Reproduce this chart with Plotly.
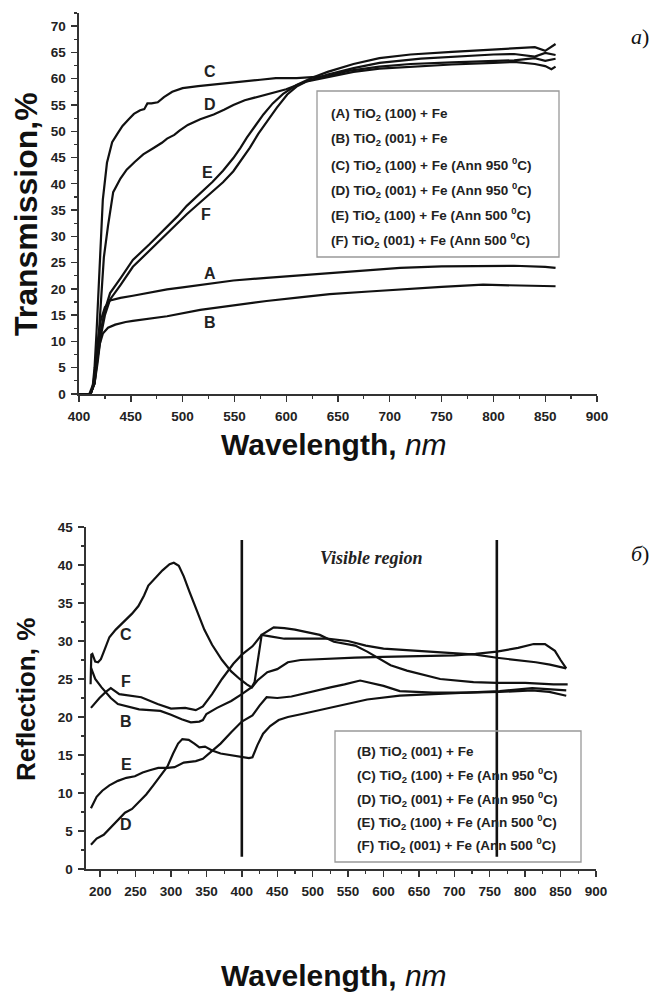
import plotly.graph_objects as go

W, H = 657, 996

# ---------------- Transmission (top) data ----------------
tA_x = [400, 410, 412, 414, 416, 418, 421, 425, 430, 440, 452, 470, 485, 500, 517, 549, 581, 613, 642, 680, 710, 750, 780, 820, 850, 860]
tA_y = [0, 0, 0.3, 2, 6, 10, 14, 16.5, 17.8, 18.3, 18.7, 19.4, 19.9, 20.3, 20.8, 21.6, 22.1, 22.6, 23.0, 23.6, 24.0, 24.3, 24.4, 24.4, 24.2, 24.0]
tB_x = [400, 410, 414, 417, 420, 423, 428, 435, 445, 452, 470, 485, 517, 549, 581, 613, 642, 680, 710, 750, 790, 820, 860]
tB_y = [0, 0, 2, 6, 9.5, 11.5, 12.6, 13.2, 13.7, 13.9, 14.4, 14.8, 16.0, 16.9, 17.7, 18.4, 19.0, 19.5, 19.9, 20.4, 20.8, 20.7, 20.5]
tC_x = [400, 411, 413, 415, 417, 420, 423, 427, 432, 437, 442, 448, 453, 459, 463, 466, 470, 476, 482, 490, 500, 515, 532, 550, 575, 590, 610, 640, 660, 690, 720, 760, 800, 820, 840, 850, 860]
tC_y = [0, 0, 1, 5, 12, 24, 37, 44, 47.9, 49.5, 51, 52.3, 53.3, 54.0, 54.2, 55.3, 55.3, 55.5, 56.5, 57.5, 58.2, 58.6, 58.9, 59.3, 59.8, 60.1, 60.1, 60.5, 61.5, 62.3, 62.8, 63.1, 63.4, 63.5, 63.9, 63.4, 63.8]
tD_x = [400, 411, 415, 418, 421, 424, 428, 433, 440, 446, 454, 462, 472, 480, 485, 492, 497, 505, 517, 530, 540, 549, 560, 575, 585, 600, 620, 640, 665, 690, 730, 770, 800, 820, 840, 850, 860]
tD_y = [0, 0, 2, 8, 17, 26, 32, 38.4, 41, 42.7, 44.2, 45.6, 46.8, 47.8, 48.6, 49.3, 50.1, 51.2, 52.3, 53.2, 54.1, 55.0, 55.9, 56.7, 57.3, 58.0, 59.5, 60.8, 62.0, 63.0, 63.8, 64.3, 64.6, 64.7, 64.2, 64.9, 64.5]
tE_x = [400, 411, 415, 418, 421, 425, 430, 440, 452, 468, 485, 495, 504, 516, 529, 539, 549, 556, 562, 570, 578, 587, 597, 610, 625, 640, 665, 690, 720, 760, 800, 820, 840, 850, 860]
tE_y = [0, 0, 2, 7, 12, 16, 19.2, 22, 25.5, 28.5, 31.8, 33.8, 35.8, 38, 40.4, 42.5, 44.9, 46.9, 48.8, 51, 53.2, 55.3, 57.1, 58.8, 60.2, 61.3, 62.8, 63.9, 64.6, 65.1, 65.5, 65.7, 66.0, 65.3, 66.6]
tF_x = [400, 411, 415, 418, 421, 425, 430, 440, 452, 468, 485, 495, 504, 516, 529, 539, 549, 557, 565, 573, 581, 591, 601, 610, 620, 640, 665, 690, 720, 760, 800, 820, 840, 850, 856, 860]
tF_y = [0, 0, 2, 6, 11, 15, 18, 20.7, 24.2, 27.3, 30.5, 32.4, 34.2, 36.3, 38.5, 40.3, 42.4, 44.6, 46.9, 49.5, 51.7, 54.5, 57, 58.5, 59.5, 60.3, 61.3, 61.9, 62.3, 62.7, 63.0, 63.2, 62.8, 62.4, 61.8, 62.3]

top_labels = ["A", "B", "C", "D", "E", "F"]
top_label_x = [526, 526, 526, 526, 524, 523]
top_label_y = [22.9, 13.7, 61.4, 55.1, 42.2, 34.1]
top_legend = [
    "(A) TiO<sub>2</sub> (100) + Fe",
    "(B) TiO<sub>2</sub> (001) + Fe",
    "(C) TiO<sub>2</sub> (100) + Fe (Ann 950 <sup>0</sup>C)",
    "(D) TiO<sub>2</sub> (001) + Fe (Ann 950 <sup>0</sup>C)",
    "(E) TiO<sub>2</sub> (100) + Fe (Ann 500 <sup>0</sup>C)",
    "(F) TiO<sub>2</sub> (001) + Fe (Ann 500 <sup>0</sup>C)",
]

# ---------------- Reflection (bottom) data ----------------
rB_x = [187, 193, 202, 215, 225, 240, 255, 270, 285, 300, 315, 328, 340, 345, 350, 365, 385, 400, 415, 422, 436, 450, 465, 483, 525, 560, 600, 650, 700, 730, 760, 790, 812, 828, 842, 850, 858]
rB_y = [26.5, 25.0, 23.9, 22.5, 21.7, 21.3, 21.0, 20.9, 20.8, 20.3, 19.7, 19.3, 19.4, 19.6, 20.4, 21.2, 22.1, 23.0, 24.0, 24.8, 25.9, 26.3, 27.2, 27.5, 27.7, 27.8, 27.9, 28.0, 28.1, 28.3, 28.6, 29.1, 29.6, 29.6, 28.7, 27.5, 26.4]
rC_x = [186.5, 187.5, 189, 193, 197, 201, 206, 213, 222, 235, 245, 254, 262, 268, 278, 288, 298, 304, 311, 318, 326, 336, 347, 358, 372, 385, 397, 407, 414, 418, 423, 428, 440, 460, 483, 520, 550, 575, 600, 650, 700, 730, 760, 790, 815, 835, 850, 858]
rC_y = [24.3, 28.2, 28.3, 27.3, 27.2, 27.6, 28.8, 30.5, 31.5, 32.7, 33.6, 34.6, 36.0, 37.3, 38.3, 39.3, 40.1, 40.3, 39.9, 38.5, 36.5, 34.0, 31.5, 29.5, 27.5, 26.0, 25.0, 24.3, 23.9, 24.6, 27.5, 30.8, 30.6, 30.3, 30.3, 30.3, 30.0, 29.4, 29.0, 28.7, 28.4, 28.2, 27.8, 27.5, 27.2, 26.9, 26.6, 26.4]
rD_x = [187, 195, 205, 215, 225, 235, 245, 255, 265, 275, 285, 295, 303, 310, 316, 325, 333, 340, 348, 358, 370, 385, 400, 410, 415, 422, 430, 440, 452, 465, 485, 505, 525, 550, 577, 623, 670, 717, 764, 810, 840, 858]
rD_y = [3.2, 4.0, 4.5, 5.5, 6.5, 7.4, 7.9, 8.8, 9.8, 11.0, 12.2, 13.5, 15.2, 16.5, 17.1, 17.0, 16.5, 16.0, 16.1, 15.6, 15.2, 15.0, 14.8, 14.6, 14.7, 16.3, 17.8, 18.8, 19.6, 20.0, 20.4, 20.8, 21.2, 21.7, 22.3, 22.8, 23.0, 23.2, 23.4, 23.8, 23.6, 23.5]
rE_x = [187, 195, 203, 213, 225, 237, 249, 260, 270, 282, 295, 305, 318, 335, 345, 358, 370, 385, 400, 415, 425, 435, 450, 470, 500, 525, 545, 567, 600, 623, 670, 717, 764, 810, 834, 858]
rE_y = [8.0, 9.5, 10.3, 11.0, 11.6, 12.0, 12.2, 12.7, 13.0, 13.3, 13.3, 13.4, 14.0, 14.2, 14.5, 15.5, 16.5, 18.0, 19.4, 20.2, 21.5, 22.6, 22.5, 22.7, 23.4, 23.9, 24.3, 24.8, 24.1, 23.4, 23.2, 23.2, 23.3, 23.5, 23.3, 22.8]
rF_x = [187, 199, 208, 215, 227, 240, 258, 281, 300, 320, 335, 345, 358, 372, 388, 400, 415, 428, 445, 460, 475, 490, 510, 530, 560, 577, 610, 633, 657, 680, 727, 760, 800, 840, 860]
rF_y = [21.2, 22.5, 23.3, 23.8, 23.0, 22.8, 22.6, 21.7, 21.1, 21.2, 20.9, 21.4, 23.0, 25.0, 27.0, 28.2, 29.3, 30.8, 31.8, 31.7, 31.5, 31.2, 30.8, 29.9, 29.4, 28.6, 26.8, 26.1, 25.5, 25.0, 24.6, 24.5, 24.5, 24.3, 24.3]

bot_labels = ["C", "F", "B", "E", "D"]
bot_label_x = [237, 237, 237, 237, 237]
bot_label_y = [30.9, 24.7, 19.4, 13.7, 5.9]
bot_legend = [
    "(B) TiO<sub>2</sub> (001) + Fe",
    "(C) TiO<sub>2</sub> (100) + Fe (Ann 950 <sup>0</sup>C)",
    "(D) TiO<sub>2</sub> (001) + Fe (Ann 950 <sup>0</sup>C)",
    "(E) TiO<sub>2</sub> (100) + Fe (Ann 500 <sup>0</sup>C)",
    "(F) TiO<sub>2</sub> (001) + Fe (Ann 500 <sup>0</sup>C)",
]
visible_bounds = [400, 760]
visible_line_y = [1.6, 43.3]

top_x_ticks = list(range(400, 901, 50))
top_y_ticks = list(range(0, 71, 5))
bot_x_ticks = list(range(200, 901, 50))
bot_y_ticks = list(range(0, 46, 5))

# ---------------- layout helpers ----------------
def fx(px):
    return px / W

def fy(py):
    return 1 - py / H

LINE = "#111111"
FONT = "Liberation Sans, Arial, sans-serif"
SERIF = "Liberation Serif, Times New Roman, serif"

fig = go.Figure()

for xs, ys in [(tA_x, tA_y), (tB_x, tB_y), (tC_x, tC_y), (tD_x, tD_y), (tE_x, tE_y), (tF_x, tF_y)]:
    fig.add_trace(go.Scatter(x=xs, y=ys, mode="lines", line=dict(color=LINE, width=2.2),
                             xaxis="x", yaxis="y", showlegend=False, hoverinfo="skip"))

for xs, ys in [(rB_x, rB_y), (rC_x, rC_y), (rD_x, rD_y), (rE_x, rE_y), (rF_x, rF_y)]:
    fig.add_trace(go.Scatter(x=xs, y=ys, mode="lines", line=dict(color=LINE, width=2.2),
                             xaxis="x2", yaxis="y2", showlegend=False, hoverinfo="skip"))

for vx in visible_bounds:
    fig.add_trace(go.Scatter(x=[vx, vx], y=visible_line_y, mode="lines",
                             line=dict(color=LINE, width=2.6), xaxis="x2", yaxis="y2",
                             showlegend=False, hoverinfo="skip"))

tickfont = dict(family=FONT, size=13.5, color="#222222")
MINOR = dict(ticks="outside", ticklen=3, tickwidth=1.2, tickcolor="#333333")
axis_common = dict(showline=True, linecolor="#333333", linewidth=1.6, ticks="outside",
                   ticklen=6, tickwidth=1.4, tickcolor="#333333", showgrid=False,
                   zeroline=False, tickfont=tickfont, mirror=False, fixedrange=True,
                   automargin=False, ticklabelstandoff=3)

def bold(vals):
    return [f"<b>{v}</b>" for v in vals]

TOP_L, TOP_R, TOP_T, TOP_B = 79, 597, 13, 394
BOT_L, BOT_R, BOT_T, BOT_B = 86, 596, 527, 869

fig.update_layout(
    template="none",
    width=W, height=H, margin=dict(l=0, r=0, t=0, b=0, autoexpand=False),
    paper_bgcolor="white", plot_bgcolor="white",
    xaxis=dict(domain=[fx(TOP_L), fx(TOP_R)], range=[400, 900], tickvals=top_x_ticks,
               ticktext=bold(top_x_ticks), minor=dict(dtick=25, **MINOR),
               anchor="y", **axis_common),
    yaxis=dict(domain=[fy(TOP_B), fy(TOP_T)], range=[0, 72.5], tickvals=top_y_ticks,
               ticktext=bold(top_y_ticks), minor=dict(dtick=2.5, **MINOR),
               anchor="x", **axis_common),
    xaxis2=dict(domain=[fx(BOT_L), fx(BOT_R)], range=[180, 900], tickvals=bot_x_ticks,
                ticktext=bold(bot_x_ticks), minor=dict(tickvals=list(range(175, 901, 25)), **MINOR),
                anchor="y2", **axis_common),
    yaxis2=dict(domain=[fy(BOT_B), fy(BOT_T)], range=[0, 45], tickvals=bot_y_ticks,
                ticktext=bold(bot_y_ticks), minor=dict(dtick=2.5, **MINOR),
                anchor="x2", **axis_common),
)

ann = []
LBL_FONT = dict(family=FONT, size=16, color="#222222")
for t, x, y in zip(top_labels, top_label_x, top_label_y):
    ann.append(dict(x=x, y=y, xref="x", yref="y", text=f"<b>{t}</b>", showarrow=False, font=LBL_FONT))
for t, x, y in zip(bot_labels, bot_label_x, bot_label_y):
    ann.append(dict(x=x, y=y, xref="x2", yref="y2", text=f"<b>{t}</b>", showarrow=False, font=LBL_FONT))

# axis titles
ann.append(dict(x=fx(26), y=fy(214), xref="paper", yref="paper", text="<b>Transmission,%</b>",
                textangle=-90, xanchor="center", yanchor="middle", showarrow=False,
                font=dict(family=FONT, size=32, color="#111111")))
ann.append(dict(x=fx(334), y=fy(444), xref="paper", yref="paper",
                text="<b>Wavelength,</b> <i>nm</i>", xanchor="center", yanchor="middle", showarrow=False,
                font=dict(family=FONT, size=30, color="#111111")))
ann.append(dict(x=fx(26), y=fy(700), xref="paper", yref="paper", text="<b>Reflection, %</b>",
                textangle=-90, xanchor="center", yanchor="middle", showarrow=False,
                font=dict(family=FONT, size=26, color="#111111")))
ann.append(dict(x=fx(334), y=fy(975), xref="paper", yref="paper",
                text="<b>Wavelength,</b> <i>nm</i>", xanchor="center", yanchor="middle", showarrow=False,
                font=dict(family=FONT, size=30, color="#111111")))

# panel labels
ann.append(dict(x=fx(651), y=fy(36), xref="paper", yref="paper", text="<i>a</i>)", xanchor="right",
                yanchor="middle", showarrow=False, font=dict(family=SERIF, size=22, color="#111111")))
ann.append(dict(x=fx(651), y=fy(553), xref="paper", yref="paper", text="<i>б</i>)", xanchor="right",
                yanchor="middle", showarrow=False, font=dict(family=SERIF, size=22, color="#111111")))
ann.append(dict(x=fx(371), y=fy(558), xref="paper", yref="paper", text="<b><i>Visible region</i></b>",
                xanchor="center", yanchor="middle", showarrow=False,
                font=dict(family=SERIF, size=18, color="#222222")))

# legends
LEG_FONT = dict(family=FONT, size=13.5, color="#222222")
for i, t in enumerate(top_legend):
    ann.append(dict(x=fx(329), y=fy(115 + i * 25), xref="paper", yref="paper", text=f"<b>{t}</b>",
                    xanchor="left", yanchor="middle", showarrow=False, font=LEG_FONT))
for i, t in enumerate(bot_legend):
    ann.append(dict(x=fx(355), y=fy(752 + i * 23.3), xref="paper", yref="paper", text=f"<b>{t}</b>",
                    xanchor="left", yanchor="middle", showarrow=False, font=LEG_FONT))

fig.update_layout(annotations=ann, shapes=[
    dict(type="rect", xref="paper", yref="paper", x0=fx(317), x1=fx(559), y0=fy(91), y1=fy(257),
         line=dict(color="#999999", width=1.3), fillcolor="rgba(0,0,0,0)"),
    dict(type="rect", xref="paper", yref="paper", x0=fx(335), x1=fx(581), y0=fy(731), y1=fy(862),
         line=dict(color="#999999", width=1.3), fillcolor="rgba(0,0,0,0)"),
])

fig.write_html(
    "out.html",
    config={"displayModeBar": False, "staticPlot": True},
    post_script="document.body.style.margin='0';document.body.style.padding='0';"
                "document.documentElement.style.overflow='hidden';document.body.style.overflow='hidden';",
)
